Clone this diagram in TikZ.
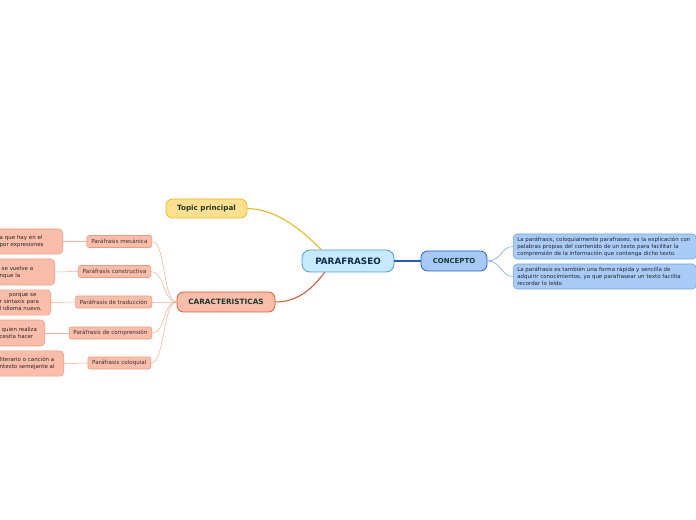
\documentclass[tikz,border=0pt]{standalone}
\usepackage{fontspec}
\setmainfont{DejaVu Sans}
\usepackage{xcolor}
\usetikzlibrary{positioning}

\definecolor{mainfill}{HTML}{C6E9FB}
\definecolor{mainborder}{HTML}{4A9FDC}
\definecolor{mainink}{HTML}{0D2A4F}
\definecolor{topicfill}{HTML}{FFE08E}
\definecolor{topicborder}{HTML}{F5B90A}
\definecolor{caracfill}{HTML}{F9BDA9}
\definecolor{caracborder}{HTML}{E8552B}
\definecolor{subborder}{HTML}{F29B7C}
\definecolor{subline}{HTML}{F8AE93}
\definecolor{conceptfill}{HTML}{A6C9F6}
\definecolor{conceptborder}{HTML}{1D5FC6}
\definecolor{notefill}{HTML}{A9CBF7}
\definecolor{noteborder}{HTML}{6BA3EE}
\definecolor{ink}{HTML}{1B3A33}

\begin{document}
\begin{tikzpicture}[x=0.75pt, y=-0.75pt]
    \tikzstyle{central} = [rectangle, rounded corners=6pt, minimum width=69pt, minimum height=16.5pt, text centered, draw=mainborder, line width=0.6pt, fill=mainfill, text=mainink, font=\fontsize{6.6}{8}\selectfont\bfseries]
    \tikzstyle{topicbox} = [rectangle, rounded corners=5pt, minimum width=60.75pt, minimum height=14.25pt, text centered, draw=topicborder, line width=0.6pt, fill=topicfill, text=ink, font=\fontsize{5.4}{6}\selectfont\bfseries]
    \tikzstyle{caracbox} = [rectangle, rounded corners=5pt, minimum width=73.5pt, minimum height=15pt, text centered, draw=caracborder, line width=0.6pt, fill=caracfill, text=ink, font=\fontsize{5.5}{6}\selectfont\bfseries]
    \tikzstyle{conceptbox} = [rectangle, rounded corners=5pt, minimum width=49.5pt, minimum height=15pt, text centered, draw=conceptborder, line width=0.6pt, fill=conceptfill, text=ink, font=\fontsize{5.2}{6}\selectfont\bfseries]
    \tikzstyle{subbox} = [rectangle, rounded corners=1.5pt, minimum height=9pt, inner xsep=3.2pt, inner ysep=0pt, draw=subborder, line width=0.4pt, fill=caracfill, text=black!80, font=\fontsize{4.2}{5}\selectfont]
    \tikzstyle{leftnote} = [rectangle, rounded corners=3pt, inner xsep=3pt, inner ysep=0pt, draw=subborder, line width=0.4pt, fill=caracfill, text=black!85, align=left, font=\fontsize{4.1}{5.25}\selectfont]
    \tikzstyle{bluenote} = [rectangle, rounded corners=3pt, text width=131.25pt, minimum height=18.75pt, inner xsep=3pt, inner ysep=0pt, draw=noteborder, line width=0.4pt, fill=notefill, text=black!85, align=left, font=\fontsize{4.1}{5.25}\selectfont]
    \tikzstyle{topicline} = [topicborder, line width=0.8pt]
    \tikzstyle{caracline} = [caracborder, line width=0.8pt]
    \tikzstyle{conceptline} = [conceptborder, line width=0.8pt]
    \tikzstyle{subconn} = [subline, line width=0.4pt]
    \tikzstyle{noteconn} = [noteborder, line width=0.4pt]

    \useasboundingbox (0,0) rectangle (696,520);
    \clip (0,0) rectangle (696,520);

    % centre and main branches
    \node (main) [central] at (348,261) {PARAFRASEO};
    \node (topic) [topicbox] at (206.5,208.5) {Topic principal};
    \node (carac) [caracbox] at (226,302) {CARACTERISTICAS};
    \node (concepto) [conceptbox] at (454,261) {CONCEPTO};

    % concept notes
    \node (def1) [bluenote, anchor=west] at (513,246.5) {La paráfrasis, coloquialmente parafraseo, es la explicación con\\palabras propias del contenido de un texto para facilitar la\\comprensión de la información que contenga dicho texto.};
    \node (def2) [bluenote, anchor=west] at (513,276.5) {La paráfrasis es también una forma rápida y sencilla de\\adquirir conocimientos, ya que parafrasear un texto facilita\\recordar lo leído};

    % characteristics
    \node (mec) [subbox, anchor=east] at (152,241.5) {Paráfrasis mecánica};
    \node (constr) [subbox, anchor=east] at (151,271.5) {Paráfrasis constructiva};
    \node (trad) [subbox, anchor=east] at (152,302) {Paráfrasis de traducción};
    \node (compr) [subbox, anchor=east] at (152,333) {Paráfrasis de comprensión};
    \node (colo) [subbox, anchor=east] at (151,363) {Paráfrasis coloquial};

    \node (mecnote) [leftnote, anchor=east, minimum height=18.75pt, text width=44.25pt] at (63,241.5) {a que hay en el\\por expresiones};
    \node (constrnote) [leftnote, anchor=east, minimum height=19.5pt, text width=38.25pt] at (55,272) {\hspace*{1.5pt}se vuelve a\\nque la};
    \node (tradnote) [leftnote, anchor=east, minimum height=19pt, text width=35.25pt] at (51,302.5) {\hspace*{7pt}porque se\\r sintaxis para\\l idioma nuevo.};
    \node (comprnote) [leftnote, anchor=east, minimum height=19.5pt, text width=30.75pt] at (45,333) {\hspace*{1.5pt}quien realiza\\cesita hacer};
    \node (colonote) [leftnote, anchor=east, minimum height=19pt, text width=45pt] at (64,363.5) {literario o canción a\\ntexto semejante al};

    % connectors
    \draw [topicline] (main.157) .. controls (300,228) and (275,209) .. (topic.east);
    \draw [caracline] (main.206) .. controls (310,292) and (295,302) .. (carac.east);
    \draw [conceptline] (main.east) -- (concepto.west);
    \draw [noteconn] (concepto.east) .. controls +(14,0) and +(-12,0) .. (def1.west);
    \draw [noteconn] (concepto.east) .. controls +(14,0) and +(-12,0) .. (def2.west);
    \foreach \s in {mec, constr, trad, compr, colo}
        \draw [subconn] (\s.east) .. controls +(14,0) and +(-14,0) .. (carac.west);
    \draw [subconn] (mecnote.east) -- (mec.west);
    \draw [subconn] (constrnote.east) -- (constr.west);
    \draw [subconn] (tradnote.east) -- (trad.west);
    \draw [subconn] (comprnote.east) -- (compr.west);
    \draw [subconn] (colonote.east) -- (colo.west);
\end{tikzpicture}
\end{document}
